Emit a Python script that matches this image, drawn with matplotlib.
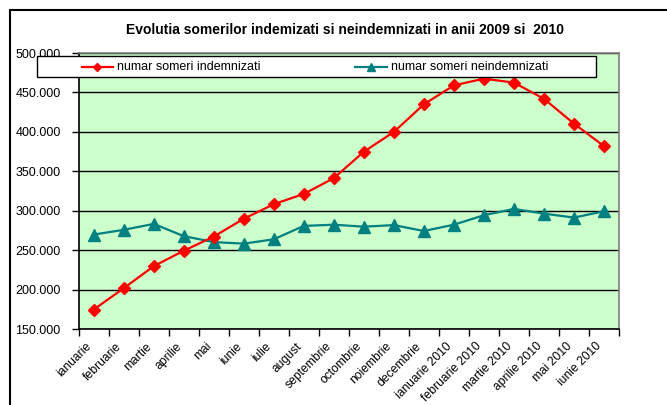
import matplotlib
matplotlib.use("Agg")
import matplotlib.pyplot as plt
from matplotlib.patches import Rectangle
from matplotlib.lines import Line2D
from matplotlib.ticker import FuncFormatter, MultipleLocator, FixedLocator, NullFormatter
import numpy as np

plt.rcParams['font.family'] = ['Liberation Sans', 'DejaVu Sans']

categories = ["ianuarie", "februarie", "martie", "aprilie", "mai", "iunie", "iulie",
              "august", "septembrie", "octombrie", "noiembrie", "decembrie",
              "ianuarie 2010", "februarie 2010", "martie 2010", "aprilie 2010",
              "mai 2010", "iunie 2010"]
indemnizati = [175000, 202000, 230000, 249500, 267500, 290000, 308500, 321500, 341500,
               375000, 400000, 435000, 459000, 467500, 462500, 442000, 410500, 382000]
neindemnizati = [270000, 276000, 283500, 268000, 260500, 258500, 264000, 281000, 282500,
                 280000, 282000, 274500, 282500, 294500, 302500, 296500, 291500, 299500]
title = "Evolutia somerilor indemizati si neindemnizati in anii 2009 si  2010"
label_ind = "numar someri indemnizati"
label_nei = "numar someri neindemnizati"

RED = '#FF0000'
TEAL = '#008080'

W, H = 667, 405
fig = plt.figure(figsize=(W / 100, H / 100), dpi=100)


def fx(px):
    return px / W


def fy(py):
    return 1 - py / H


# outer chart frame (cut off at right/bottom)
fig.patches.append(Rectangle((fx(10), -0.1), 1.2, fy(10) + 0.1, transform=fig.transFigure,
                             fill=False, edgecolor='black', linewidth=1.5, zorder=0))

left, right, top, bottom = 78.7, 619, 53, 329.3
ax = fig.add_axes([fx(left), fy(bottom), fx(right - left), (bottom - top) / H])
ax.set_facecolor('#CCFFCC')

x = np.arange(len(categories))
ax.plot(x, indemnizati, color=RED, linewidth=1.6, marker='D', markersize=6.5,
        markeredgecolor=RED, zorder=4)
ax.plot(x, neindemnizati, color=TEAL, linewidth=1.6, marker='^', markersize=8,
        markeredgecolor=TEAL, zorder=3)

ax.set_xlim(-0.5, len(categories) - 0.5)
ax.set_ylim(150000, 500000)
ax.yaxis.set_major_locator(MultipleLocator(50000))
ax.yaxis.set_major_formatter(FuncFormatter(lambda v, p: f"{int(v):,}".replace(",", ".")))
ax.grid(axis='y', color='black', linewidth=1.0, zorder=1)
ax.set_axisbelow(True)

ax.xaxis.set_major_locator(FixedLocator(np.arange(-0.5, len(categories) + 0.5, 1)))
ax.xaxis.set_major_formatter(NullFormatter())
ax.tick_params(axis='x', direction='out', length=5, width=1, color='black')
ax.tick_params(axis='y', direction='out', length=5, width=1, color='black', labelsize=9, pad=8)

for i, c in enumerate(categories):
    ax.annotate(c, xy=(i, 0), xycoords=('data', 'axes fraction'), xytext=(-6, -8),
                textcoords='offset points', rotation=45, ha='right', va='top',
                rotation_mode='anchor', fontsize=8.7)

for s in ['left', 'bottom']:
    ax.spines[s].set_color('black')
    ax.spines[s].set_linewidth(1.2)
for s in ['right', 'top']:
    ax.spines[s].set_color('#808080')
    ax.spines[s].set_linewidth(1.2)

fig.text(fx(345), fy(30), title, ha='center', va='center', fontsize=10, fontweight='bold')

# legend box drawn manually
fig.patches.append(Rectangle((fx(36.5), fy(77)), fx(595.5 - 36.5), (77 - 55.5) / H,
                             transform=fig.transFigure, facecolor='white', edgecolor='black',
                             linewidth=1.0, zorder=5))
ly = fy(66.5)
for (x0, x1, col, mk, ms, lab, tx) in [(81.7, 112.7, RED, 'D', 4.5, label_ind, 117.3),
                                       (355, 386.7, TEAL, '^', 5.5, label_nei, 391)]:
    fig.lines.append(Line2D([fx(x0), fx(x1)], [ly, ly], transform=fig.transFigure,
                            color=col, linewidth=1.6, zorder=6))
    fig.lines.append(Line2D([fx((x0 + x1) / 2)], [ly], transform=fig.transFigure,
                            color=col, marker=mk, markersize=ms, linestyle='none', zorder=6))
    fig.text(fx(tx), ly, lab, ha='left', va='center', fontsize=9, zorder=6)

fig.savefig("out.png", dpi=100)
